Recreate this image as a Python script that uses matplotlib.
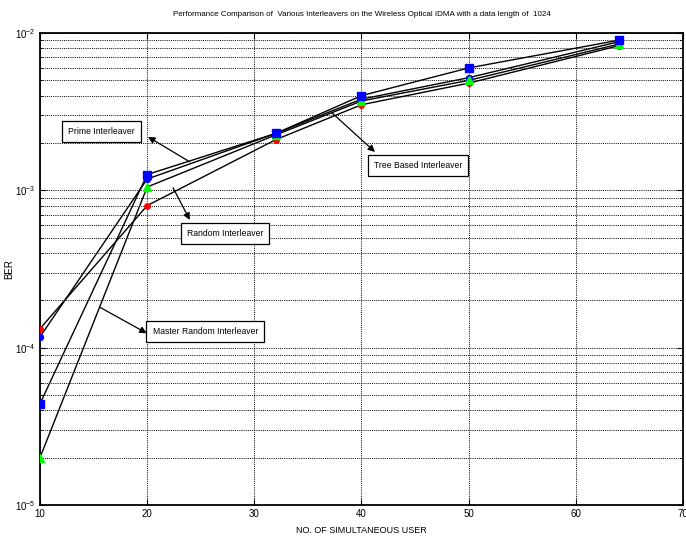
import matplotlib
matplotlib.use("Agg")
import matplotlib.pyplot as plt
from matplotlib.ticker import LogLocator, FixedLocator, NullLocator

plt.rcParams['font.family'] = ['Liberation Sans', 'DejaVu Sans']

users = [10, 20, 32, 40, 50, 64]
prime_ber = [4.4e-5, 1.26e-3, 2.3e-3, 4.0e-3, 6.0e-3, 9.0e-3]
tree_ber = [1.17e-4, 1.18e-3, 2.3e-3, 3.8e-3, 5.2e-3, 8.8e-3]
master_ber = [2.0e-5, 1.05e-3, 2.25e-3, 3.7e-3, 5.0e-3, 8.5e-3]
random_ber = [1.32e-4, 8.0e-4, 2.1e-3, 3.5e-3, 4.8e-3, 8.3e-3]

x_ticks = [10, 20, 30, 40, 50, 60, 70]

title = "Performance Comparison of  Various Interleavers on the Wireless Optical IDMA with a data length of  1024"

fig = plt.figure(figsize=(6.86, 5.37), dpi=100)
ax = fig.add_axes([0.0583, 0.0596, 0.9373, 0.8789])

series = [
    (random_ber, 'o', '#ff0000', 4.0),
    (tree_ber, 'o', '#0000ff', 4.3),
    (master_ber, '^', '#00ff00', 5.5),
    (prime_ber, 's', '#0000ff', 5.2),
]
for vals, m, c, ms in series:
    ax.plot(users, vals, color='black', linewidth=1.0, zorder=3)
for vals, m, c, ms in series:
    ax.plot(users, vals, linestyle='none', marker=m, color=c, markersize=ms,
            markeredgecolor=c, zorder=4)

ax.set_yscale('log')
ax.set_xlim(10, 70)
ax.set_ylim(1e-5, 1e-2)
ax.xaxis.set_major_locator(FixedLocator(x_ticks))
ax.xaxis.set_minor_locator(NullLocator())
ax.yaxis.set_major_locator(LogLocator(base=10, numticks=10))
ax.yaxis.set_minor_locator(LogLocator(base=10, subs=range(2, 10), numticks=20))

ax.grid(True, which='major', linestyle=(0, (1, 1.2)), color='black', linewidth=0.7)
ax.grid(True, which='minor', axis='y', linestyle=(0, (1, 1.2)), color='black', linewidth=0.7)
ax.tick_params(which='both', direction='in', top=True, right=True, labelsize=7, pad=3)
ax.tick_params(which='major', length=4)
ax.tick_params(which='minor', length=2)
for s in ax.spines.values():
    s.set_linewidth(1.3)

ax.set_title(title, fontsize=5.8, pad=12)
ax.set_xlabel("NO. OF SIMULTANEOUS USER", fontsize=6.5, labelpad=5)
ax.set_ylabel("BER", fontsize=7)
ax.yaxis.set_label_coords(-0.04, 0.5)

box = dict(boxstyle='square,pad=0.7', facecolor='white', edgecolor='black', linewidth=0.9)
arrow = dict(arrowstyle='-|>', color='black', linewidth=0.9, mutation_scale=10, shrinkA=0, shrinkB=0)

labels = [
    ("Prime Interleaver", (0.0435, 0.792), (0.168, 0.780), (0.233, 0.727)),
    ("Random Interleaver", (0.228, 0.576), (0.233, 0.604), (0.207, 0.672)),
    ("Tree Based Interleaver", (0.519, 0.720), (0.521, 0.748), (0.454, 0.831)),
    ("Master Random Interleaver", (0.175, 0.367), (0.166, 0.364), (0.093, 0.419)),
]
for txt, pos, head, tail in labels:
    ax.text(pos[0], pos[1], txt, transform=ax.transAxes, fontsize=6.2,
            va='center', ha='left', bbox=box, zorder=6)
    ax.annotate("", xy=head, xycoords='axes fraction', xytext=tail,
                textcoords='axes fraction', arrowprops=arrow, zorder=7)

fig.savefig("out.png", dpi=100)
